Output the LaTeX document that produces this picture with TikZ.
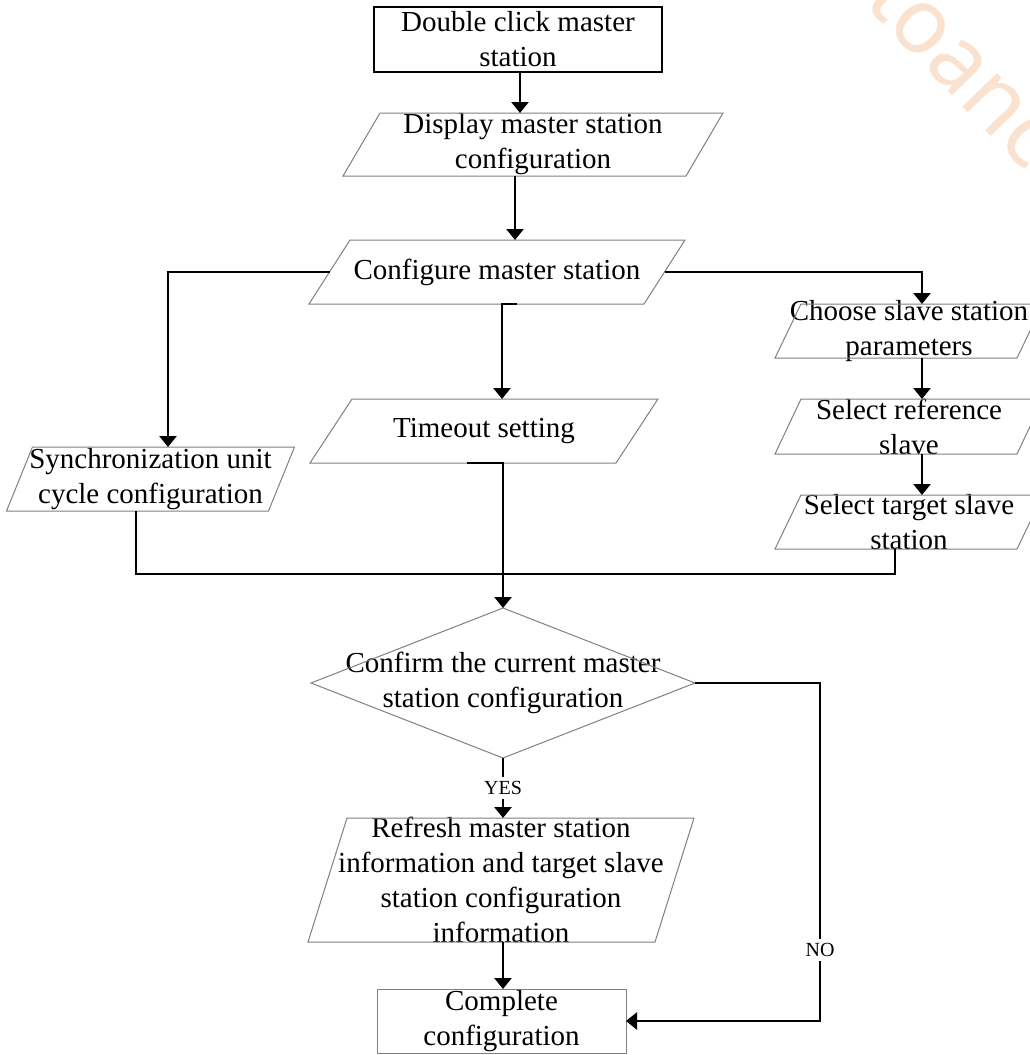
\documentclass[tikz,border=0pt]{standalone}
\usepackage{fontspec}
\setmainfont{Liberation Serif}
\newfontfamily\wmfont{Noto Sans}
\usetikzlibrary{arrows.meta,calc}
\definecolor{shapegray}{RGB}{128,128,128}
\definecolor{wmorange}{RGB}{250,226,206}
\newcommand\parashape[2]{\draw[shp] ([xshift=#2]#1.north west) -- ([xshift=#2]#1.north east) -- ([xshift=-#2]#1.south east) -- ([xshift=-#2]#1.south west) -- cycle;}
\begin{document}
\begin{tikzpicture}[x=1pt,y=-1pt,
  anchorbox/.style={draw=none, inner sep=0pt, outer sep=0pt, rectangle},
  txt/.style={font=\fontsize{29}{35}\selectfont, align=center, inner sep=0pt, outer sep=0pt},
  shp/.style={draw=shapegray, line width=1pt},
  conn/.style={line width=2.9pt, draw=black},
  arr/.style={conn, -{Triangle[length=11pt,width=17pt]}},
  lbl/.style={font=\fontsize{20}{20}\selectfont, fill=white, inner sep=4pt},
]
\fill[white] (0,0) rectangle (1030,1055);
\useasboundingbox (0,0) rectangle (1030,1055);

% watermark
\node[anchor=base west, rotate=-46, text=wmorange, inner sep=0pt,
      font=\fontsize{90}{90}\wmfont\selectfont] (wm) at (862,2) {toanc};

% nodes
\node[anchorbox, draw=black, line width=2pt, minimum width=288pt, minimum height=65pt,
      label={[txt]center:{Double click master\\station}}] (dbl) at (518,39.5) {};
\node[anchorbox, minimum width=343pt, minimum height=63pt,
      label={[txt]center:{Display master station\\configuration}}] (disp) at (533,144.5) {};
\node[anchorbox, minimum width=335pt, minimum height=64pt,
      label={[txt]center:{Configure master station}}] (cfg) at (497,272) {};
\node[anchorbox, minimum width=306pt, minimum height=64pt,
      label={[txt]center:{Timeout setting}}] (tmo) at (484,431) {};
\node[anchorbox, minimum width=262pt, minimum height=64pt,
      label={[txt]center:{Synchronization unit\\cycle configuration}}] (sync) at (150.5,479) {};
\node[anchorbox, minimum width=242pt, minimum height=54pt,
      label={[txt]center:{Choose slave station\\parameters}}] (choose) at (909,331) {};
\node[anchorbox, minimum width=242pt, minimum height=55pt,
      label={[txt]center:{Select reference\\slave}}] (sref) at (909,426.5) {};
\node[anchorbox, minimum width=242pt, minimum height=54pt,
      label={[txt]center:{Select target slave\\station}}] (stgt) at (909,522) {};
\node[anchorbox, minimum width=384pt, minimum height=150pt,
      label={[txt]center:{Confirm the current master\\station configuration}}] (conf) at (503,683) {};
\node[anchorbox, minimum width=347pt, minimum height=124pt,
      label={[txt]center:{Refresh master station\\information and target slave\\station configuration\\information}}] (refresh) at (501,880) {};
\node[anchorbox, draw=shapegray, line width=1pt, minimum width=249pt, minimum height=64pt,
      label={[txt]center:{Complete\\configuration}}] (cmp) at (501.5,1021) {};

% shapes
\parashape{disp}{18.5pt}
\parashape{cfg}{20.5pt}
\parashape{tmo}{21pt}
\parashape{sync}{13pt}
\parashape{choose}{13pt}
\parashape{sref}{13pt}
\parashape{stgt}{13pt}
\parashape{refresh}{19.5pt}
\draw[shp] (conf.north) -- (conf.east) -- (conf.south) -- (conf.west) -- cycle;

% connectors
\coordinate (c1) at ([xshift=2pt]dbl.south);
\draw[arr] (c1) -- (c1 |- disp.north);
\coordinate (c2) at ([xshift=-18pt]disp.south);
\draw[arr] (c2) -- (c2 |- cfg.north);
\coordinate (c3a) at ([xshift=20pt]cfg.south);
\coordinate (c3b) at ([xshift=5pt]cfg.south);
\draw[arr] (c3a) -- (c3b) -- (c3b |- tmo.north);
\coordinate (c4a) at ([xshift=-17pt]tmo.south);
\draw[arr] (c4a) -- (tmo.south -| conf.north) -- (conf.north);
\coordinate (c5) at ([xshift=17.5pt]sync.north);
\draw[arr] (cfg.west) -| (c5);
\coordinate (c6) at ([xshift=13pt]choose.north);
\draw[arr] (cfg.east) -| (c6);
\draw[arr] ([xshift=13pt]choose.south) -- ([xshift=13pt]sref.north);
\draw[arr] ([xshift=13pt]sref.south) -- ([xshift=13pt]stgt.north);
\coordinate (c7) at ([xshift=-14.5pt]sync.south);
\coordinate (c8) at ([xshift=-14pt]stgt.south);
\coordinate (mergey) at (0,574);
\draw[conn] (c7) |- (c8 |- mergey) -- (c8);
\draw[arr] (conf.south) -- node[lbl]{YES} (conf.south |- refresh.north);
\draw[arr] (refresh.south -| conf.south) -- (cmp.north -| conf.south);
\coordinate (nocol) at (820,0);
\draw[arr] (conf.east) -- (conf.east -| nocol) -- node[lbl, pos=0.79]{NO} (cmp.east -| nocol) -- (cmp.east);
\end{tikzpicture}
\end{document}
